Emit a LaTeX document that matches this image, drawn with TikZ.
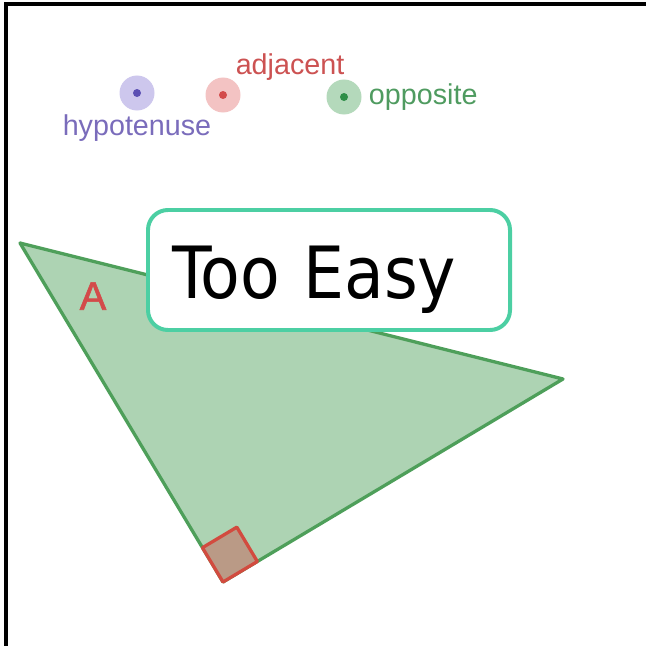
\documentclass[tikz,border=0pt]{standalone}
\usepackage{fontspec}
\setmainfont{Liberation Sans}
\newfontfamily\boxfont{DejaVu Sans Condensed}
\newfontfamily\angfont[FakeBold=1.5]{Liberation Sans}
\usepackage{tikz}
\usetikzlibrary{positioning,calc}
\definecolor{triFill}{HTML}{ADD3B3}
\definecolor{triEdge}{HTML}{4E9F5A}
\definecolor{boxTeal}{HTML}{4CCFA3}
\definecolor{hypDark}{HTML}{5B4FB3}
\definecolor{hypHalo}{HTML}{CDC7ED}
\definecolor{hypText}{HTML}{7A6CBB}
\definecolor{adjDark}{HTML}{D34A4A}
\definecolor{adjHalo}{HTML}{F3C3C3}
\definecolor{adjText}{HTML}{CC5252}
\definecolor{oppDark}{HTML}{2F8F48}
\definecolor{oppHalo}{HTML}{B4D9BB}
\definecolor{oppText}{HTML}{4F9B60}
\definecolor{angleFill}{HTML}{BA9A86}
\definecolor{angleEdge}{HTML}{D24B3F}

\begin{document}
\begin{tikzpicture}[
  x=0.03cm, y=-0.03cm,
  frame/.style={draw=black, line width=2.6pt},
  tri/.style={fill=triFill, draw=triEdge, line width=2.8pt, line join=round},
  corner/.style={fill=angleFill, draw=angleEdge, line width=2.8pt, line join=round},
  halo/.style={circle, minimum size=1.05cm, inner sep=0pt},
  dot/.style={halo, fill=#1Halo, path picture={\fill[#1Dark] (path picture bounding box.center) circle (0.12cm);}},
  lbl/.style={inner sep=0pt, font=\fontsize{24.5}{29}\selectfont},
  easy/.style={draw=boxTeal, fill=white, line width=3.4pt, rounded corners=17pt, align=left, text width=9.36cm, inner xsep=0.75cm, inner ysep=0pt, text height=2.64cm, text depth=0.96cm, font=\boxfont\fontsize{61.5}{72}\selectfont}
]
\useasboundingbox (0,0) rectangle (646,646);
\draw[frame] (6,646) -- (6,4) -- (646,4);
% triangle with right angle at B
\coordinate (A) at (20,243);
\coordinate (B) at (223,582);
\coordinate (C) at (563,379);
\draw[tri] (A) -- (B) -- (C) -- cycle;
\draw[corner] (B) -- ($(B)!1.2cm!(C)$) -- ($(B)!1.2cm!(C)!1.2cm!90:(C)$) -- ($(B)!1.2cm!(A)$) -- cycle;
\node[lbl, text=adjDark, font=\angfont\fontsize{34}{40}\selectfont] (angA) at (93,296) {A};
% legend dots
\node[dot=hyp] (hypDot) at (137,93) {};
\node[dot=adj] (adjDot) at (223,95) {};
\node[dot=opp] (oppDot) at (344,97) {};
\node[lbl, text=hypText, below=0.1cm of hypDot] (hypLbl) {hypotenuse};
\node[lbl, text=adjText, above right=0.06cm and 0cm of adjDot] (adjLbl) {adjacent};
\node[lbl, text=oppText, right=0.21cm of oppDot] (oppLbl) {opposite};
% banner
\node[easy] (easyBox) at (329,270) {Too Easy};
\end{tikzpicture}
\end{document}
